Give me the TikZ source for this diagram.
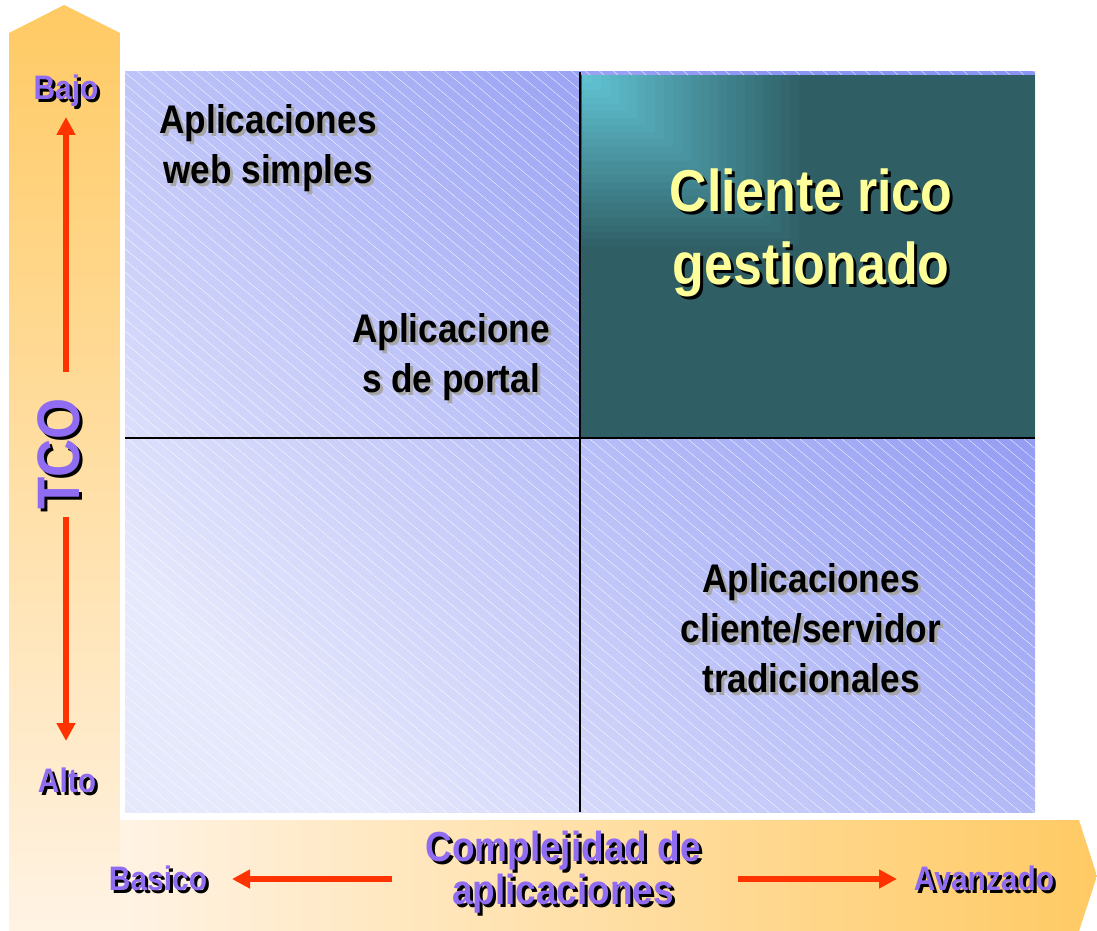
\documentclass[tikz,border=0pt]{standalone}
\usepackage{fontspec}
\setmainfont{Liberation Sans}[FakeStretch=0.88]
\usetikzlibrary{arrows.meta,patterns.meta}
\definecolor{gridlight}{HTML}{E6E8FC}
\definecolor{griddark}{HTML}{8A94F2}
\definecolor{tealq}{HTML}{2F5E65}
\definecolor{tealglow}{HTML}{62C6D6}
\definecolor{bandorange}{HTML}{FFCA64}
\definecolor{bandpale}{HTML}{FFF3E4}
\definecolor{axisred}{HTML}{FF3300}
\definecolor{axispurple}{HTML}{8F6CF2}
\definecolor{labelyellow}{HTML}{FFFF99}
% style, name, position, shadow colour, text
\newcommand{\shadowed}[5]{%
  \node [xshift=3pt, yshift=-3pt, #1, text=#4] at #3 {#5};
  \node [#1] (#2) at #3 {#5};}
\tikzset{
  quadtext/.style={font=\bfseries\fontsize{40}{50}\selectfont, align=center, inner sep=0pt},
  richtext/.style={font=\bfseries\fontsize{59}{73}\selectfont, align=center, inner sep=0pt, text=labelyellow},
  axislabel/.style={font=\bfseries\fontsize{34}{40}\selectfont, align=center, inner sep=0pt, text=axispurple},
  axistitle/.style={font=\bfseries\fontsize{42}{43}\selectfont, align=center, inner sep=0pt, text=axispurple},
  axisarrow/.style={draw=axisred, line width=6pt, -{Triangle[width=18pt,length=18pt]}}
}
\begin{document}
\begin{tikzpicture}[x=1pt, y=1pt]
	\useasboundingbox (0,0) rectangle (1097,-931);
	\shade [top color=bandorange, bottom color=bandpale] (9,-931) -- (9,-33) -- (64,-5) -- (120,-33) -- (120,-931) -- cycle;
	\shade [left color=bandpale, right color=bandorange] (120,-820) -- (1079,-820) -- (1097,-876) -- (1079,-931) -- (120,-931) -- cycle;
	\shade [top color=griddark, bottom color=gridlight, shading angle=-45] (125,-72) rectangle (1035,-812);
	\fill [pattern={Lines[angle=-40, distance=9pt, line width=.3pt]}, pattern color=white, fill opacity=.35] (125,-72) rectangle (1035,-812);
	\fill [tealq] (581,-75) rectangle (1035,-438);
	\foreach \i in {0,...,24} {
		\pgfmathtruncatemacro\mix{\i*4}
		\fill [tealglow!\mix!tealq] (582,-75) rectangle ++({226-\i*9},{-178+\i*7.1});
	}
	\draw [line width=2pt] (580,-72) -- (580,-812);
	\draw [line width=2pt] (125,-438) -- (1035,-438);
	\shadowed{quadtext}{websimple}{(268,-148)}{black!35}{Aplicaciones\\web simples}
	\shadowed{quadtext}{portal}{(451,-357)}{black!35}{Aplicacione\\s de portal}
	\shadowed{richtext}{rich}{(811,-233)}{black}{Cliente rico\\gestionado}
	\shadowed{quadtext}{clientserver}{(811,-628)}{black!35}{Aplicaciones\\cliente/servidor\\tradicionales}
	\shadowed{axislabel}{bajo}{(66,-91)}{black}{Bajo}
	\shadowed{axislabel}{alto}{(67,-780)}{black}{Alto}
	\shadowed{axislabel, font=\bfseries\fontsize{60}{70}\selectfont, rotate=90}{tco}{(59,-454)}{black}{TCO}
	\shadowed{axistitle}{complexity}{(563,-872)}{black}{Complejidad de\\aplicaciones}
	\shadowed{axislabel}{basico}{(158,-878)}{black}{Basico}
	\shadowed{axislabel}{avanzado}{(984,-878)}{black}{Avanzado}
	\coordinate (upstart) at (66,-372);
	\coordinate (uptip) at (66,-117);
	\coordinate (downstart) at (66,-517);
	\coordinate (downtip) at (66,-741);
	\coordinate (leftstart) at (392,-879);
	\coordinate (lefttip) at (232,-879);
	\coordinate (rightstart) at (738,-879);
	\coordinate (righttip) at (897,-879);
	\draw [axisarrow] (upstart) -- (uptip);
	\draw [axisarrow] (downstart) -- (downtip);
	\draw [axisarrow] (leftstart) -- (lefttip);
	\draw [axisarrow] (rightstart) -- (righttip);
\end{tikzpicture}
\end{document}
